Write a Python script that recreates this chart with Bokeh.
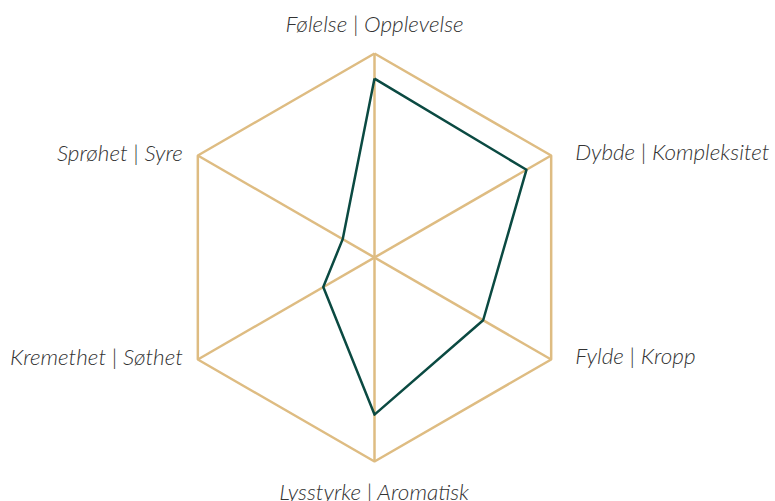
import numpy as np
from bokeh.plotting import figure
from bokeh.models import ColumnDataSource
from bokeh.core.properties import value
from bokeh.embed import file_html
from bokeh.resources import INLINE

categories = ["Følelse | Opplevelse", "Dybde | Kompleksitet", "Fylde | Kropp",
              "Lysstyrke | Aromatisk", "Kremethet | Søthet", "Sprøhet | Syre"]
scores = [0.877, 0.86, 0.615, 0.77, 0.29, 0.18]
max_score = 1.0

W, H = 775, 501
cx, cy = 374, 257   # centre in canvas pixels (from top-left)
R = 204.0

p = figure(width=W, height=H, output_backend="svg", toolbar_location=None,
           x_range=(-cx / R, (W - cx) / R), y_range=(-(H - cy) / R, cy / R),
           min_border=0, outline_line_color=None)
p.axis.visible = False
p.grid.visible = False
p.background_fill_color = "white"
p.border_fill_color = "white"

n = len(categories)
ang = np.pi / 2 - np.arange(n) * 2 * np.pi / n
vx, vy = np.cos(ang), np.sin(ang)

grid_col = "#DEBC82"
# outer hexagon
p.line(list(vx) + [vx[0]], list(vy) + [vy[0]], line_color=grid_col, line_width=2.5)
# spokes
for i in range(n // 2):
    p.line([vx[i], vx[i + 3]], [vy[i], vy[i + 3]], line_color=grid_col, line_width=2.5)

# data polygon
s = np.array(scores) / max_score
dx, dy = s * vx, s * vy
p.line(list(dx) + [dx[0]], list(dy) + [dy[0]], line_color="#0B4A42", line_width=2.5,
       line_join="round")

# labels
off = 30 / R
lx, ly, al = [], [], []
for i in range(n):
    c = np.cos(ang[i])
    if abs(c) < 1e-6:
        lx.append(vx[i]); ly.append(vy[i] + np.sign(vy[i]) * off); al.append("center")
    elif c > 0:
        lx.append(vx[i] + 24 / R); ly.append(vy[i] + 4 / R); al.append("left")
    else:
        lx.append(vx[i] - 15 / R); ly.append(vy[i] + 3 / R); al.append("right")
src = ColumnDataSource(dict(x=lx, y=ly, t=categories, a=al))
p.text(x="x", y="y", text="t", text_align="a", text_baseline="middle", source=src,
       text_font=value("Lato Light, Lato"), text_font_style="italic",
       text_font_size="22.5px", text_color="#333333")

open("out.html", "w").write(file_html(p, INLINE))
